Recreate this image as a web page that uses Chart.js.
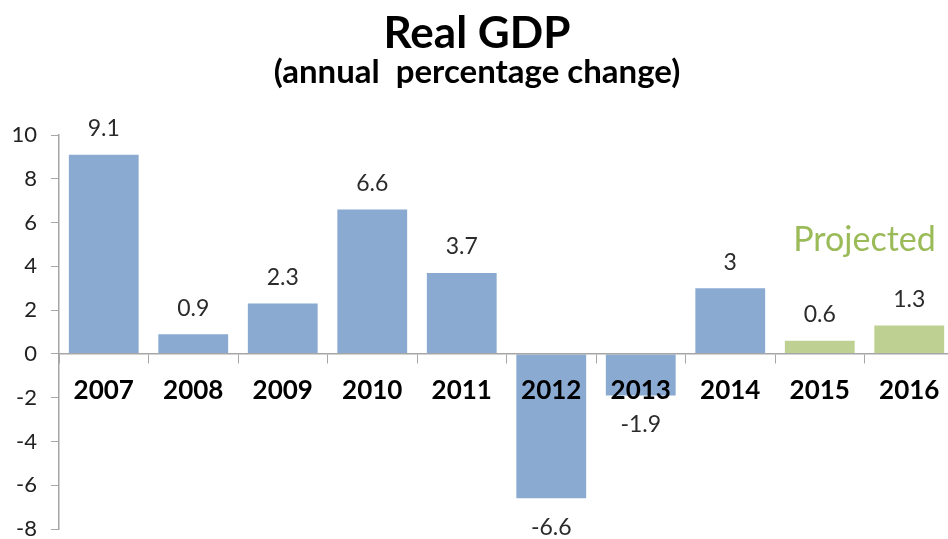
<!DOCTYPE html>
<html>
<head>
    <title>Real GDP</title>
    <script src="https://cdn.jsdelivr.net/npm/chart.js"></script>
    <style>
        body { margin: 0; background: #fff; overflow: hidden; }
        #wrap { width: 954px; height: 539px; }
    </style>
</head>
<body>
<div id="wrap">
    <canvas id="gdpChart"></canvas>
</div>
<script>
        // values
        const years = ['2007', '2008', '2009', '2010', '2011', '2012', '2013', '2014', '2015', '2016'];
        const gdpChange = [9.1, 0.9, 2.3, 6.6, 3.7, -6.6, -1.9, 3, 0.6, 1.3];
        const isProjected = [false, false, false, false, false, false, false, false, true, true];
        const yMin = -8;
        const yMax = 10;
        const yStep = 2;
        const projectedNote = 'Projected';
        const projectedNoteLevel = 5.2;

        const blue = 'rgb(138, 170, 210)';
        const green = 'rgb(190, 209, 146)';
        const axisGrey = '#A6A6A6';
        const fontName = 'Lato, "Open Sans", sans-serif';

        // value labels above / below each bar, plus the "Projected" note
        const barLabels = {
            id: 'barLabels',
            afterDatasetsDraw(chart) {
                const ctx = chart.ctx;
                const meta = chart.getDatasetMeta(0);
                ctx.save();
                ctx.font = '23px ' + fontName;
                ctx.fillStyle = '#2b2b2b';
                ctx.textAlign = 'center';
                ctx.textBaseline = 'middle';
                meta.data.forEach((bar, i) => {
                    const v = gdpChange[i];
                    const y = v >= 0 ? bar.y - 26 : bar.y + 29;
                    ctx.fillText(String(v), bar.x, y);
                });
                // note sits over the two projected years
                const proj = meta.data.filter((b, i) => isProjected[i]);
                const xMid = (proj[0].x + proj[proj.length - 1].x) / 2;
                ctx.font = '34px ' + fontName;
                ctx.fillStyle = '#9BBB59';
                ctx.fillText(projectedNote, xMid, chart.scales.y.getPixelForValue(projectedNoteLevel));
                ctx.restore();
            }
        };

        const ctx = document.getElementById('gdpChart').getContext('2d');
        new Chart(ctx, {
            type: 'bar',
            data: {
                labels: years,
                datasets: [{
                    data: gdpChange,
                    backgroundColor: isProjected.map(p => p ? green : blue),
                    barPercentage: 0.78,
                    categoryPercentage: 1.0
                }]
            },
            options: {
                responsive: true,
                maintainAspectRatio: false,
                animation: false,
                layout: { padding: { top: 0, right: 0, bottom: 10, left: 0 } },
                plugins: {
                    legend: { display: false },
                    tooltip: { enabled: false },
                    title: {
                        display: true,
                        text: 'Real GDP',
                        color: '#000',
                        font: { family: fontName, size: 44, weight: 'bold', lineHeight: 1.0 },
                        padding: { top: 12, bottom: 0 }
                    },
                    subtitle: {
                        display: true,
                        text: '(annual  percentage change)',
                        color: '#000',
                        font: { family: fontName, size: 33, weight: 'bold', lineHeight: 1.0 },
                        padding: { top: 0, bottom: 46 }
                    }
                },
                scales: {
                    x: {
                        position: { y: 0 },
                        grid: {
                            display: true,
                            drawOnChartArea: false,
                            drawTicks: true,
                            tickLength: 9,
                            color: axisGrey,
                            offset: true,
                            z: 1
                        },
                        border: { color: axisGrey, width: 1.5, z: 1 },
                        ticks: {
                            z: 1,
                            color: '#000',
                            padding: 12,
                            font: { family: fontName, size: 26, weight: 'bold' }
                        }
                    },
                    y: {
                        min: yMin,
                        max: yMax,
                        afterFit(scale) {
                            scale.width = 59;
                            // keep the label overhang from shrinking the plot
                            scale.paddingTop = 0;
                            scale.paddingBottom = 0;
                        },
                        grid: {
                            drawOnChartArea: false,
                            drawTicks: true,
                            tickLength: 8,
                            color: axisGrey
                        },
                        border: { color: axisGrey, width: 1.5 },
                        ticks: {
                            stepSize: yStep,
                            color: '#222',
                            padding: 14,
                            font: { family: fontName, size: 22 }
                        }
                    }
                }
            },
            plugins: [barLabels]
        });
    </script>
</body>
</html>
